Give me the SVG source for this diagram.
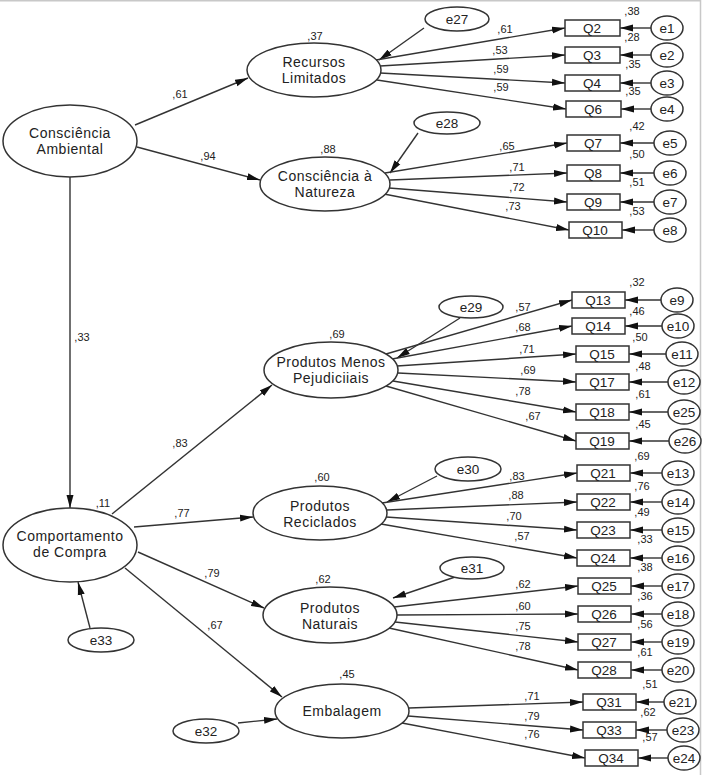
<svg xmlns="http://www.w3.org/2000/svg" width="705" height="775" viewBox="0 0 705 775">
<defs>
<marker id="ah" markerUnits="userSpaceOnUse" markerWidth="14" markerHeight="8" refX="13" refY="4" orient="auto">
<path d="M0,0.5 L13,4 L0,7.5 z" fill="#111"/>
</marker>
<style>
.c line{stroke:#333;stroke-width:1.4;marker-end:url(#ah)}
ellipse{fill:#fff;stroke:#333;stroke-width:1.5}
rect{fill:#fff;stroke:#333;stroke-width:1.5}
text{font-family:"Liberation Sans",Arial,sans-serif;fill:#222;text-anchor:middle}
.n{font-size:14px;letter-spacing:0.5px}
.e{font-size:13.5px}
.q{font-size:13.5px}
.v{font-size:11px}
.b{stroke:#c8c8c8;stroke-width:1.5}
</style>
</defs>
<rect x="0" y="0" width="705" height="775" style="fill:#fff;stroke:none"/>
<line class="b" x1="0" y1="0.75" x2="701" y2="0.75"/>
<line class="b" x1="700.5" y1="0" x2="700.5" y2="775"/>

<g id="connectors" class="c">
<!-- structural -->
<line x1="135" y1="125" x2="248" y2="78"/>
<line x1="137" y1="147" x2="260" y2="180"/>
<line x1="70" y1="177" x2="70" y2="508"/>
<line x1="112" y1="514" x2="272" y2="385"/>
<line x1="134" y1="527" x2="253" y2="517"/>
<line x1="138" y1="552" x2="264" y2="608"/>
<line x1="125" y1="568" x2="282" y2="697"/>
<line x1="90" y1="628" x2="78" y2="582"/>
<line x1="238" y1="723" x2="277" y2="719"/>
<!-- disturbances -->
<line x1="424" y1="28" x2="379" y2="60"/>
<line x1="418" y1="133" x2="390" y2="173"/>
<line x1="460" y1="318" x2="397" y2="358"/>
<line x1="437" y1="476" x2="387" y2="502"/>
<line x1="455" y1="577" x2="393" y2="598"/>
<!-- loadings -->
<line x1="376" y1="60" x2="565" y2="28"/>
<line x1="380" y1="66" x2="565" y2="55"/>
<line x1="380" y1="73" x2="565" y2="83"/>
<line x1="377" y1="80" x2="566" y2="109"/>
<line x1="385" y1="173" x2="567" y2="143"/>
<line x1="390" y1="180" x2="567" y2="173"/>
<line x1="389" y1="188" x2="567" y2="202"/>
<line x1="384" y1="194" x2="569" y2="230"/>
<line x1="386" y1="354" x2="572" y2="300"/>
<line x1="392" y1="359" x2="572" y2="326"/>
<line x1="397" y1="366" x2="576" y2="354"/>
<line x1="398" y1="373" x2="576" y2="382"/>
<line x1="393" y1="381" x2="576" y2="412"/>
<line x1="386" y1="386" x2="576" y2="441"/>
<line x1="382" y1="503" x2="577" y2="473"/>
<line x1="387" y1="510" x2="577" y2="502"/>
<line x1="386" y1="517" x2="577" y2="530"/>
<line x1="381" y1="524" x2="577" y2="558"/>
<line x1="394" y1="607" x2="578" y2="586"/>
<line x1="397" y1="615" x2="578" y2="614"/>
<line x1="395" y1="622" x2="578" y2="642"/>
<line x1="389" y1="628" x2="578" y2="670"/>
<line x1="409" y1="708" x2="583" y2="702"/>
<line x1="408" y1="716" x2="583" y2="730"/>
<line x1="402" y1="723" x2="585" y2="758"/>
<!-- measurement errors -->
<line x1="651" y1="28" x2="620" y2="28"/>
<line x1="651" y1="55" x2="620" y2="55"/>
<line x1="651" y1="83" x2="620" y2="83"/>
<line x1="651" y1="109" x2="621" y2="109"/>
<line x1="654" y1="143" x2="620" y2="143"/>
<line x1="654" y1="173" x2="620" y2="173"/>
<line x1="654" y1="202" x2="620" y2="202"/>
<line x1="654" y1="230" x2="622" y2="230"/>
<line x1="661" y1="300" x2="625" y2="300"/>
<line x1="662" y1="326" x2="625" y2="326"/>
<line x1="666" y1="354" x2="629" y2="354"/>
<line x1="668" y1="382" x2="629" y2="382"/>
<line x1="668" y1="412" x2="629" y2="412"/>
<line x1="669" y1="441" x2="629" y2="441"/>
<line x1="662" y1="473" x2="630" y2="473"/>
<line x1="662" y1="502" x2="630" y2="502"/>
<line x1="662" y1="530" x2="630" y2="530"/>
<line x1="662" y1="558" x2="630" y2="558"/>
<line x1="662" y1="586" x2="631" y2="586"/>
<line x1="662" y1="614" x2="631" y2="614"/>
<line x1="662" y1="642" x2="631" y2="642"/>
<line x1="662" y1="670" x2="631" y2="670"/>
<line x1="664" y1="702" x2="636" y2="702"/>
<line x1="667" y1="730" x2="636" y2="730"/>
<line x1="668" y1="758" x2="638" y2="758"/>
</g>

<g id="path-labels">
<text class="v" x="180" y="98">,61</text>
<text class="v" x="208" y="160">,94</text>
<text class="v" x="82" y="341">,33</text>
<text class="v" x="180" y="447">,83</text>
<text class="v" x="182" y="517">,77</text>
<text class="v" x="212" y="577">,79</text>
<text class="v" x="215" y="629">,67</text>
<text class="v" x="103" y="507">,11</text>
</g>

<g id="consciencia-ambiental">
<ellipse cx="70" cy="141" rx="67" ry="36"/>
<text class="n" x="70" y="138">Consciência</text>
<text class="n" x="70" y="154">Ambiental</text>
</g>
<g id="recursos-limitados">
<ellipse cx="314" cy="70" rx="67" ry="27"/>
<text class="n" x="314" y="67">Recursos</text>
<text class="n" x="314" y="83">Limitados</text>
<text class="v" x="315" y="40">,37</text>
</g>
<g id="consciencia-natureza">
<ellipse cx="325" cy="184" rx="65" ry="27"/>
<text class="n" x="325" y="181">Consciência à</text>
<text class="n" x="325" y="197">Natureza</text>
<text class="v" x="328" y="153">,88</text>
</g>
<g id="comportamento-compra">
<ellipse cx="70" cy="545" rx="67" ry="37"/>
<text class="n" x="70" y="541">Comportamento</text>
<text class="n" x="70" y="557">de Compra</text>
</g>
<g id="produtos-menos">
<ellipse cx="331" cy="370" rx="67" ry="28"/>
<text class="n" x="331" y="367">Produtos Menos</text>
<text class="n" x="331" y="383">Pejudiciiais</text>
<text class="v" x="337" y="338">,69</text>
</g>
<g id="produtos-reciclados">
<ellipse cx="320" cy="513" rx="67" ry="27"/>
<text class="n" x="320" y="511">Produtos</text>
<text class="n" x="320" y="527">Reciclados</text>
<text class="v" x="322" y="481">,60</text>
</g>
<g id="produtos-naturais">
<ellipse cx="330" cy="615" rx="67" ry="28"/>
<text class="n" x="330" y="613">Produtos</text>
<text class="n" x="330" y="629">Naturais</text>
<text class="v" x="323" y="583">,62</text>
</g>
<g id="embalagem">
<ellipse cx="342" cy="711" rx="67" ry="27"/>
<text class="n" x="342" y="716">Embalagem</text>
<text class="v" x="347" y="678">,45</text>
</g>

<g id="e27"><ellipse cx="457" cy="19" rx="32" ry="12"/><text class="e" x="457" y="24">e27</text></g>
<g id="e28"><ellipse cx="447" cy="123" rx="33" ry="11"/><text class="e" x="447" y="128">e28</text></g>
<g id="e29"><ellipse cx="471" cy="307" rx="32" ry="11"/><text class="e" x="471" y="312">e29</text></g>
<g id="e30"><ellipse cx="468" cy="469" rx="33" ry="12"/><text class="e" x="468" y="474">e30</text></g>
<g id="e31"><ellipse cx="472" cy="568" rx="32" ry="11"/><text class="e" x="472" y="573">e31</text></g>
<g id="e32"><ellipse cx="206" cy="731" rx="33" ry="12"/><text class="e" x="206" y="736">e32</text></g>
<g id="e33"><ellipse cx="101" cy="640" rx="33" ry="12"/><text class="e" x="101" y="645">e33</text></g>

<g id="Q2"><rect x="565" y="20" width="55" height="16"/><text class="q" x="592" y="33">Q2</text><text class="v" x="632" y="15">,38</text></g>
<g id="Q3"><rect x="565" y="47" width="55" height="16"/><text class="q" x="592" y="60">Q3</text><text class="v" x="632" y="41">,28</text></g>
<g id="Q4"><rect x="565" y="75" width="55" height="16"/><text class="q" x="592" y="88">Q4</text><text class="v" x="633" y="68">,35</text></g>
<g id="Q6"><rect x="566" y="101" width="55" height="16"/><text class="q" x="593" y="114">Q6</text><text class="v" x="633" y="95">,35</text></g>
<g id="Q7"><rect x="567" y="135" width="53" height="16"/><text class="q" x="593" y="148">Q7</text><text class="v" x="637" y="130">,42</text></g>
<g id="Q8"><rect x="567" y="165" width="53" height="16"/><text class="q" x="593" y="178">Q8</text><text class="v" x="637" y="158">,50</text></g>
<g id="Q9"><rect x="567" y="194" width="53" height="16"/><text class="q" x="593" y="207">Q9</text><text class="v" x="637" y="186">,51</text></g>
<g id="Q10"><rect x="569" y="222" width="53" height="16"/><text class="q" x="595" y="235">Q10</text><text class="v" x="637" y="215">,53</text></g>
<g id="Q13"><rect x="572" y="292" width="53" height="16"/><text class="q" x="598" y="305">Q13</text><text class="v" x="637" y="286">,32</text></g>
<g id="Q14"><rect x="572" y="318" width="53" height="16"/><text class="q" x="598" y="331">Q14</text><text class="v" x="637" y="315">,46</text></g>
<g id="Q15"><rect x="576" y="346" width="53" height="16"/><text class="q" x="602" y="359">Q15</text><text class="v" x="640" y="341">,50</text></g>
<g id="Q17"><rect x="576" y="374" width="53" height="16"/><text class="q" x="602" y="387">Q17</text><text class="v" x="643" y="370">,48</text></g>
<g id="Q18"><rect x="576" y="404" width="53" height="16"/><text class="q" x="602" y="417">Q18</text><text class="v" x="643" y="398">,61</text></g>
<g id="Q19"><rect x="576" y="433" width="53" height="16"/><text class="q" x="602" y="446">Q19</text><text class="v" x="643" y="428">,45</text></g>
<g id="Q21"><rect x="577" y="465" width="53" height="16"/><text class="q" x="603" y="478">Q21</text><text class="v" x="642" y="460">,69</text></g>
<g id="Q22"><rect x="577" y="494" width="53" height="16"/><text class="q" x="603" y="507">Q22</text><text class="v" x="642" y="490">,76</text></g>
<g id="Q23"><rect x="577" y="522" width="53" height="16"/><text class="q" x="603" y="535">Q23</text><text class="v" x="642" y="516">,49</text></g>
<g id="Q24"><rect x="577" y="550" width="53" height="16"/><text class="q" x="603" y="563">Q24</text><text class="v" x="645" y="543">,33</text></g>
<g id="Q25"><rect x="578" y="578" width="53" height="16"/><text class="q" x="604" y="591">Q25</text><text class="v" x="645" y="571">,38</text></g>
<g id="Q26"><rect x="578" y="606" width="53" height="16"/><text class="q" x="604" y="619">Q26</text><text class="v" x="645" y="600">,36</text></g>
<g id="Q27"><rect x="578" y="634" width="53" height="16"/><text class="q" x="604" y="647">Q27</text><text class="v" x="645" y="628">,56</text></g>
<g id="Q28"><rect x="578" y="662" width="53" height="16"/><text class="q" x="604" y="675">Q28</text><text class="v" x="645" y="656">,61</text></g>
<g id="Q31"><rect x="583" y="694" width="53" height="16"/><text class="q" x="609" y="707">Q31</text><text class="v" x="650" y="688">,51</text></g>
<g id="Q33"><rect x="583" y="722" width="53" height="16"/><text class="q" x="609" y="735">Q33</text><text class="v" x="648" y="716">,62</text></g>
<g id="Q34"><rect x="585" y="750" width="53" height="16"/><text class="q" x="611" y="763">Q34</text><text class="v" x="650" y="741">,57</text></g>

<g id="loading-labels">
<text class="v" x="505" y="33">,61</text>
<text class="v" x="500" y="54">,53</text>
<text class="v" x="501" y="73">,59</text>
<text class="v" x="501" y="91">,59</text>
<text class="v" x="507" y="150">,65</text>
<text class="v" x="517" y="171">,71</text>
<text class="v" x="517" y="191">,72</text>
<text class="v" x="513" y="210">,73</text>
<text class="v" x="523" y="311">,57</text>
<text class="v" x="523" y="331">,68</text>
<text class="v" x="527" y="353">,71</text>
<text class="v" x="528" y="374">,69</text>
<text class="v" x="523" y="395">,78</text>
<text class="v" x="533" y="420">,67</text>
<text class="v" x="517" y="480">,83</text>
<text class="v" x="516" y="499">,88</text>
<text class="v" x="514" y="520">,70</text>
<text class="v" x="522" y="540">,57</text>
<text class="v" x="523" y="588">,62</text>
<text class="v" x="523" y="610">,60</text>
<text class="v" x="523" y="630">,75</text>
<text class="v" x="523" y="650">,78</text>
<text class="v" x="532" y="700">,71</text>
<text class="v" x="532" y="720">,79</text>
<text class="v" x="532" y="738">,76</text>
</g>

<g id="e1"><ellipse cx="667" cy="28" rx="16" ry="12"/><text class="e" x="667" y="33">e1</text></g>
<g id="e2"><ellipse cx="667" cy="55" rx="16" ry="12"/><text class="e" x="667" y="60">e2</text></g>
<g id="e3"><ellipse cx="667" cy="83" rx="16" ry="12"/><text class="e" x="667" y="88">e3</text></g>
<g id="e4"><ellipse cx="667" cy="109" rx="16" ry="12"/><text class="e" x="667" y="114">e4</text></g>
<g id="e5"><ellipse cx="670" cy="143" rx="16" ry="12"/><text class="e" x="670" y="148">e5</text></g>
<g id="e6"><ellipse cx="670" cy="173" rx="16" ry="12"/><text class="e" x="670" y="178">e6</text></g>
<g id="e7"><ellipse cx="670" cy="202" rx="16" ry="12"/><text class="e" x="670" y="207">e7</text></g>
<g id="e8"><ellipse cx="670" cy="230" rx="16" ry="12"/><text class="e" x="670" y="235">e8</text></g>
<g id="e9"><ellipse cx="677" cy="300" rx="16" ry="12"/><text class="e" x="677" y="305">e9</text></g>
<g id="e10"><ellipse cx="678" cy="326" rx="16" ry="12"/><text class="e" x="678" y="331">e10</text></g>
<g id="e11"><ellipse cx="682" cy="354" rx="16" ry="12"/><text class="e" x="682" y="359">e11</text></g>
<g id="e12"><ellipse cx="684" cy="382" rx="16" ry="12"/><text class="e" x="684" y="387">e12</text></g>
<g id="e25"><ellipse cx="684" cy="412" rx="16" ry="12"/><text class="e" x="684" y="417">e25</text></g>
<g id="e26"><ellipse cx="685" cy="441" rx="16" ry="12"/><text class="e" x="685" y="446">e26</text></g>
<g id="e13"><ellipse cx="678" cy="473" rx="16" ry="12"/><text class="e" x="678" y="478">e13</text></g>
<g id="e14"><ellipse cx="678" cy="502" rx="16" ry="12"/><text class="e" x="678" y="507">e14</text></g>
<g id="e15"><ellipse cx="678" cy="530" rx="16" ry="12"/><text class="e" x="678" y="535">e15</text></g>
<g id="e16"><ellipse cx="678" cy="558" rx="16" ry="12"/><text class="e" x="678" y="563">e16</text></g>
<g id="e17"><ellipse cx="678" cy="586" rx="16" ry="12"/><text class="e" x="678" y="591">e17</text></g>
<g id="e18"><ellipse cx="678" cy="614" rx="16" ry="12"/><text class="e" x="678" y="619">e18</text></g>
<g id="e19"><ellipse cx="678" cy="642" rx="16" ry="12"/><text class="e" x="678" y="647">e19</text></g>
<g id="e20"><ellipse cx="678" cy="670" rx="16" ry="12"/><text class="e" x="678" y="675">e20</text></g>
<g id="e21"><ellipse cx="680" cy="702" rx="16" ry="12"/><text class="e" x="680" y="707">e21</text></g>
<g id="e23"><ellipse cx="683" cy="730" rx="16" ry="12"/><text class="e" x="683" y="735">e23</text></g>
<g id="e24"><ellipse cx="684" cy="758" rx="16" ry="12"/><text class="e" x="684" y="763">e24</text></g>
</svg>
